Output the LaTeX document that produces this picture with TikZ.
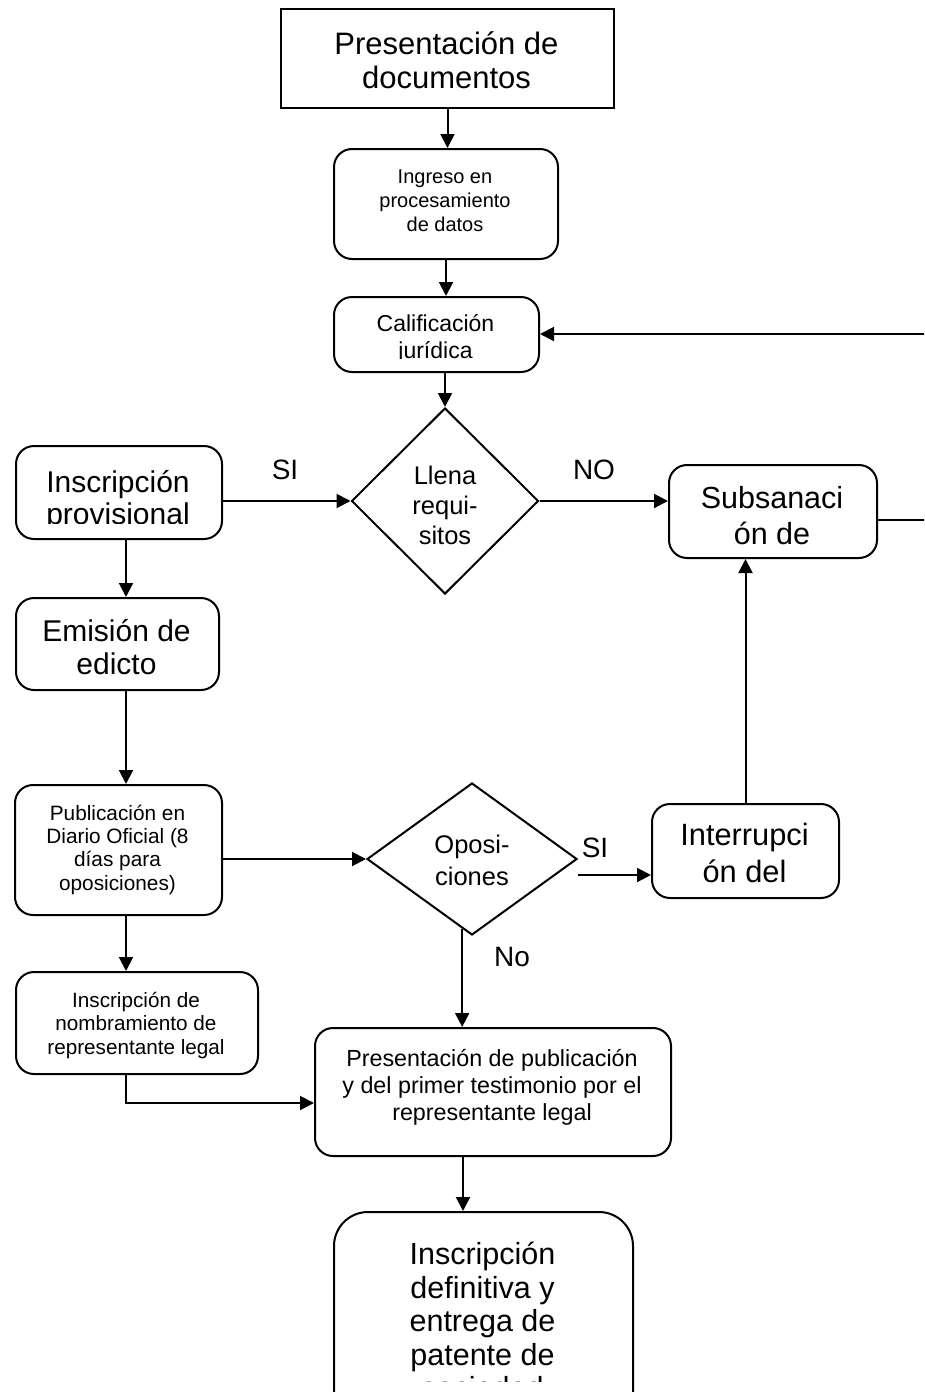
\documentclass[tikz,border=0pt]{standalone}
\usepackage{fontspec}
\setmainfont{Liberation Sans}
\usetikzlibrary{arrows.meta,shapes.geometric}

\tikzset{
  conn/.style={line width=2pt},
  arr/.style={conn, -{Triangle[length=14pt,width=14pt]}},
  sbox/.style={draw, line width=2pt, inner sep=0pt, anchor=north west},
  rbox/.style={sbox, rounded corners=18pt},
  decision/.style={draw, diamond, line width=2pt, inner sep=0pt},
  txt/.style={anchor=north, align=center, inner sep=0pt},
  lab/.style={font=\fontsize{28}{30}\selectfont, inner sep=0pt},
}
% font size and line distance of a text block
\newcommand\fs[2]{\fontsize{#1}{#2}\selectfont}

\begin{document}
\begin{tikzpicture}[x=1pt,y=-1pt]
\useasboundingbox (0,0) rectangle (924,1392);
\clip (0,0) rectangle (924,1392);

% guide columns and rows for the connectors
\coordinate (cA) at (126,0);
\coordinate (cC) at (463,0);
\coordinate (rS) at (0,875);
\coordinate (rD) at (0,1103);
\coordinate (loopA) at (960,520);
\coordinate (loopB) at (960,334);

% shapes
\node[sbox, minimum width=333pt, minimum height=99pt] (doc) at (280,8) {};
\node[rbox, minimum width=224pt, minimum height=110pt] (ing) at (333,148) {};
\node[rbox, minimum width=205pt, minimum height=75pt] (cal) at (333,296) {};
\node[decision, minimum width=187pt, minimum height=186pt] (llena) at (445,501) {};
\node[rbox, minimum width=206pt, minimum height=93pt] (prov) at (15,445) {};
\node[rbox, minimum width=208pt, minimum height=93pt] (sub) at (668,464) {};
\node[rbox, minimum width=203pt, minimum height=92pt] (emi) at (15,597) {};
\node[rbox, minimum width=207pt, minimum height=130pt] (pub) at (14,784) {};
\node[decision, minimum width=210pt, minimum height=152pt] (opo) at (472,859) {};
\node[rbox, minimum width=187pt, minimum height=94pt] (int) at (651,803) {};
\node[rbox, minimum width=242pt, minimum height=102pt] (nom) at (15,971) {};
\node[rbox, minimum width=356pt, minimum height=128pt] (pres) at (314,1027) {};
\node[rbox, rounded corners=34pt, minimum width=299pt, minimum height=220pt] (fin) at (333,1211) {};

% texts, each cut off where its text area ends
\node[txt, font=\fs{31}{34.5}] (docT) at (446.5,31) {Presentación de\\documentos};
\node[txt, font=\fs{20}{24}] (ingT) at (445,169.5) {Ingreso en\\procesamiento\\de datos};
\begin{scope}
  \clip (333,296) rectangle (538,358);
  \node[txt, font=\fs{23}{27}] (calT) at (435.5,314) {Calificación\\jurídica};
\end{scope}
\begin{scope}
  \clip (351,408) rectangle (538,546);
  \node[txt, font=\fs{25.5}{30}] (llenaT) at (445,466) {Llena\\requi-\\sitos};
\end{scope}
\begin{scope}
  \clip (15,445) rectangle (221,523);
  \node[txt, font=\fs{30}{32}] (provT) at (118,470.5) {Inscripción\\provisional};
\end{scope}
\begin{scope}
  \clip (668,464) rectangle (876,548);
  \node[txt, font=\fs{30.5}{36}] (subT) at (772,486) {Subsanaci\\ón de};
\end{scope}
\node[txt, font=\fs{30}{33}] (emiT) at (116.5,619) {Emisión de\\edicto};
\node[txt, font=\fs{20.8}{23.2}] (pubT) at (117.5,805) {Publicación en\\Diario Oficial (8\\días para\\oposiciones)};
\node[txt, font=\fs{25.5}{32}] (opoT) at (472,835) {Oposi-\\ciones};
\begin{scope}
  \clip (651,803) rectangle (838,889);
  \node[txt, font=\fs{30.8}{37}] (intT) at (744.5,823) {Interrupci\\ón del};
\end{scope}
\node[txt, font=\fs{20.7}{23.5}] (nomT) at (136,992) {Inscripción de\\nombramiento de\\representante legal};
\node[txt, font=\fs{23.3}{27}] (presT) at (492,1049) {Presentación de publicación\\y del primer testimonio por el\\representante legal};
\begin{scope}
  \clip (333,1211) rectangle (632,1381);
  \node[txt, font=\fs{30.5}{33.5}] (finT) at (482.5,1242) {Inscripción\\definitiva y\\entrega de\\patente de\\sociedad};
\end{scope}

% connectors
\draw[arr] (doc.south) -- (doc.south |- ing.north);
\draw[arr] (ing.south) -- (ing.south |- cal.north);
\draw[arr] (cal.south -| llena.north) -- (llena.north);
\draw[arr] (prov.east |- llena.west) -- (llena.west);
\draw[arr] (llena.east) -- (llena.east -| sub.west);
\draw[arr] (sub.east |- loopA) -- (loopA) -- (loopB) -- (cal.east |- loopB);
\draw[arr] (prov.south -| cA) -- (emi.north -| cA);
\draw[arr] (emi.south -| cA) -- (pub.north -| cA);
\draw[arr] (pub.east |- opo.west) -- (opo.west);
\draw[arr] (opo.east |- rS) -- (int.west |- rS);
\draw[arr] (int.north) -- (int.north |- sub.south);
\draw[arr] (opo.262) -- (opo.262 |- pres.north);
\draw[arr] (pub.south -| cA) -- (nom.north -| cA);
\draw[arr] (nom.south -| cA) |- (pres.west |- rD);
\draw[arr] (pres.south -| cC) -- (fin.north -| cC);

% branch labels
\node[lab] (siA) at (285,470) {SI};
\node[lab] (noA) at (594,470) {NO};
\node[lab] (siB) at (595,848) {SI};
\node[lab] (noB) at (512,957) {No};
\end{tikzpicture}
\end{document}
